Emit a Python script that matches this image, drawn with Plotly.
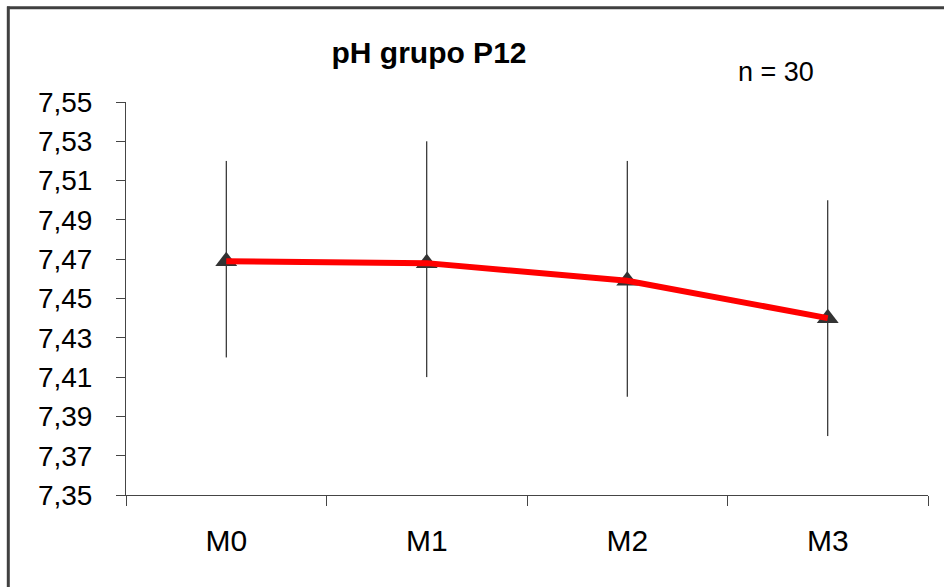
import plotly.graph_objects as go

# ---- data ----
categories = ["M0", "M1", "M2", "M3"]
ph_mean = [7.469, 7.468, 7.459, 7.440]
ph_upper = [7.52, 7.53, 7.52, 7.50]
ph_lower = [7.42, 7.41, 7.40, 7.38]
y_ticks = [7.35, 7.37, 7.39, 7.41, 7.43, 7.45, 7.47, 7.49, 7.51, 7.53, 7.55]
title_text = "pH grupo P12"
n_text = "n = 30"

err_plus = [u - m for u, m in zip(ph_upper, ph_mean)]
err_minus = [m - l for m, l in zip(ph_mean, ph_lower)]

W, H = 944, 587
L, R, T, B = 126, 16, 102, 92
pw, ph = W - L - R, H - T - B


def px_to_paper_x(px):
    return (px - L) / pw


def px_to_paper_y(py):
    return (H - B - py) / ph


FONT = "Liberation Sans, Arial, sans-serif"
AX = "#454545"

fig = go.Figure()
fig.add_trace(go.Scatter(
    x=categories, y=ph_mean, mode="markers",
    marker=dict(symbol="triangle-up", size=19, color="#333333"),
    error_y=dict(type="data", symmetric=False, array=err_plus, arrayminus=err_minus,
                 color="black", thickness=1, width=0),
    showlegend=False, hoverinfo="skip",
))
fig.add_trace(go.Scatter(
    x=categories, y=ph_mean, mode="lines",
    line=dict(color="#ff0000", width=6),
    showlegend=False,
))

shapes = [
    dict(type="line", xref="paper", yref="paper",
         x0=px_to_paper_x(8.3), x1=px_to_paper_x(8.3),
         y0=px_to_paper_y(6.5), y1=px_to_paper_y(H + 2),
         line=dict(color="#404040", width=3)),
    dict(type="line", xref="paper", yref="paper",
         x0=px_to_paper_x(7), x1=px_to_paper_x(W + 2),
         y0=px_to_paper_y(7.8), y1=px_to_paper_y(7.8),
         line=dict(color="#404040", width=3)),
]

fig.update_layout(
    width=W, height=H,
    margin=dict(l=L, r=R, t=T, b=B),
    paper_bgcolor="white", plot_bgcolor="white",
    separators=",.",
    font=dict(family=FONT, color="black"),
    shapes=shapes,
    title=dict(text="<b>" + title_text + "</b>", xref="container", yref="container",
               x=429 / W, y=1 - 52 / H, xanchor="center", yanchor="middle",
               font=dict(size=30, family=FONT, color="black")),
    annotations=[dict(text=n_text, xref="paper", yref="paper",
                      x=px_to_paper_x(776), y=px_to_paper_y(72),
                      xanchor="center", yanchor="middle", showarrow=False,
                      font=dict(size=27, family=FONT, color="black"))],
    xaxis=dict(type="category", tickson="boundaries", showgrid=False, zeroline=False,
               showline=True, linecolor=AX, linewidth=1,
               ticks="outside", ticklen=10, tickcolor=AX, tickwidth=1,
               tickfont=dict(size=30, family=FONT, color="black"),
               ticklabelstandoff=19, range=[-0.5, 3.5]),
    yaxis=dict(range=[7.35, 7.55], tickvals=y_ticks, tickformat=".2f",
               showgrid=False, zeroline=False,
               showline=True, linecolor=AX, linewidth=1,
               ticks="outside", ticklen=9, tickcolor=AX, tickwidth=1,
               tickfont=dict(size=28, family=FONT, color="black"),
               ticklabelstandoff=18),
)

fig.write_html("out.html")
